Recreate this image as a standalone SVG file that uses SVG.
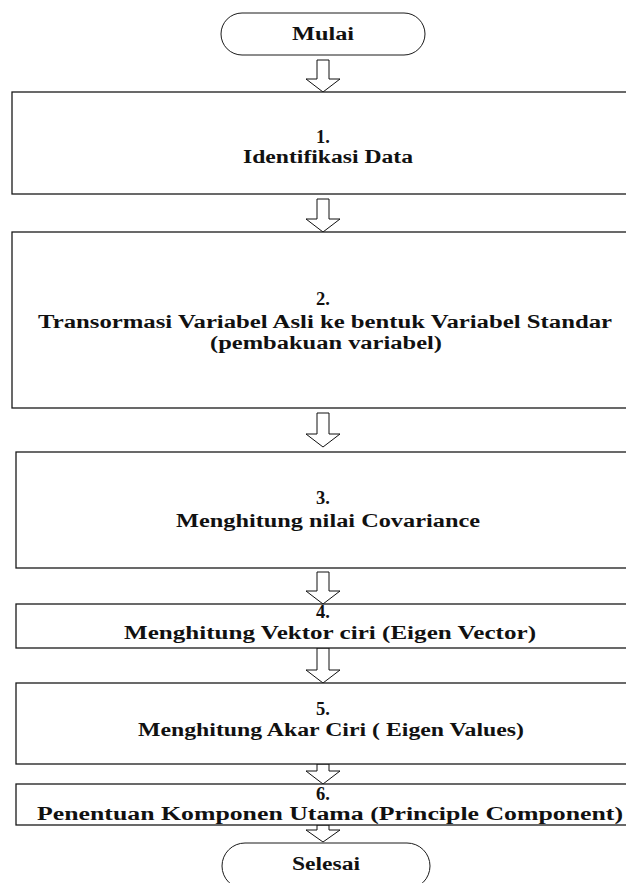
<svg xmlns="http://www.w3.org/2000/svg" width="626" height="883" viewBox="0 0 626 883">
<style>
.box{fill:#fff;stroke:#1a1a1a;stroke-width:1.3}
.term{fill:#fff;stroke:#1a1a1a;stroke-width:1}
.arr{fill:#fff;stroke:#111;stroke-width:1}
text{font-family:"Liberation Serif","Times New Roman",serif;font-weight:bold;font-size:18.5px;fill:#111;text-anchor:middle}
</style>
<rect width="626" height="883" fill="#fff"/>
<g id="connectors">
<polygon class="arr" points="317,60 329,60 329,79 340,79 323,92 306,79 317,79"/>
<polygon class="arr" points="317,199 329,199 329,219 340,219 323,232 306,219 317,219"/>
<polygon class="arr" points="317,413 329,413 329,434 340,434 323,447 306,434 317,434"/>
<polygon class="arr" points="317,572 329,572 329,591 340,591 323,604 306,591 317,591"/>
<polygon class="arr" points="317,648 329,648 329,670 340,670 323,683 306,670 317,670"/>
<polygon class="arr" points="317,764 329,764 329,771 340,771 323,784 306,771 317,771"/>
<polygon class="arr" points="317,825 329,825 329,830 340,830 323,842 306,830 317,830"/>
</g>
<g id="start">
<rect class="term" x="221" y="13" width="204" height="42" rx="21" ry="21"/>
<text x="323" y="40" textLength="62" lengthAdjust="spacingAndGlyphs">Mulai</text>
</g>
<g id="step1">
<rect class="box" x="12" y="92" width="640" height="102"/>
<text x="323" y="143">1.</text>
<text x="328" y="163" textLength="170" lengthAdjust="spacingAndGlyphs">Identifikasi Data</text>
</g>
<g id="step2">
<rect class="box" x="12" y="232" width="640" height="176"/>
<text x="323" y="305">2.</text>
<text x="325" y="328" textLength="574" lengthAdjust="spacingAndGlyphs">Transormasi Variabel Asli ke bentuk Variabel Standar</text>
<text x="326" y="349" textLength="232" lengthAdjust="spacingAndGlyphs">(pembakuan variabel)</text>
</g>
<g id="step3">
<rect class="box" x="16" y="452" width="640" height="116"/>
<text x="323" y="504">3.</text>
<text x="328" y="527" textLength="304" lengthAdjust="spacingAndGlyphs">Menghitung nilai Covariance</text>
</g>
<g id="step4">
<rect class="box" x="16" y="604" width="640" height="44"/>
<text x="323" y="618">4.</text>
<text x="330" y="639" textLength="412" lengthAdjust="spacingAndGlyphs">Menghitung Vektor ciri (Eigen Vector)</text>
</g>
<g id="step5">
<rect class="box" x="16" y="683" width="640" height="81"/>
<text x="323" y="715">5.</text>
<text x="331" y="736" textLength="386" lengthAdjust="spacingAndGlyphs">Menghitung Akar Ciri ( Eigen Values)</text>
</g>
<g id="step6">
<rect class="box" x="16" y="784" width="640" height="41"/>
<text x="323" y="800">6.</text>
<text x="330" y="820" textLength="586" lengthAdjust="spacingAndGlyphs">Penentuan Komponen Utama (Principle Component)</text>
</g>
<g id="end">
<rect class="term" x="222" y="843" width="208" height="46" rx="23" ry="23"/>
<text x="326" y="870" textLength="68" lengthAdjust="spacingAndGlyphs">Selesai</text>
</g>
</svg>
